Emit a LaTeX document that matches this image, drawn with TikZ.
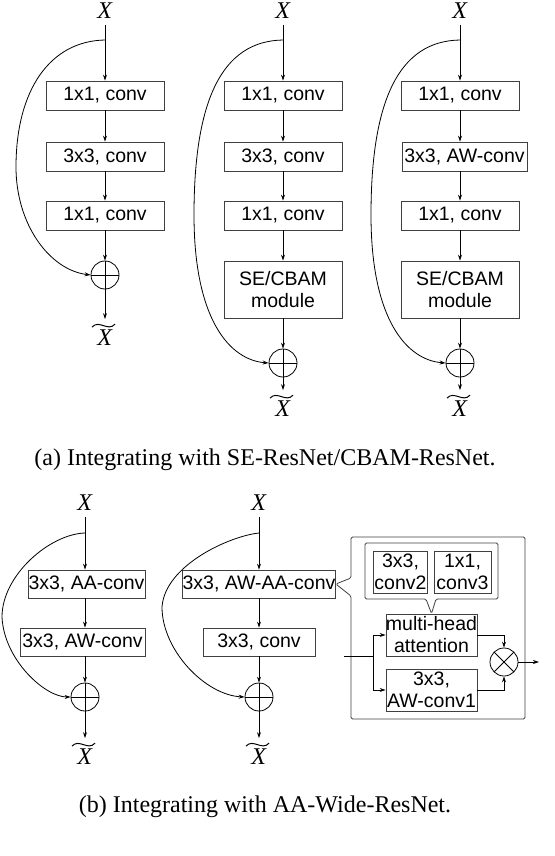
\documentclass[tikz,border=0pt]{standalone}
\usepackage{fontspec}
\setmainfont{Liberation Serif}
\setsansfont{Liberation Sans}
\usetikzlibrary{arrows.meta}

\begin{document}
\begin{tikzpicture}[x=1pt,y=-1pt,line width=0.8pt,>={Stealth[length=6pt,width=4pt]},
    box/.style={draw=black!75,font=\sffamily\fontsize{19.5}{22}\selectfont,
      minimum width=118,minimum height=29,inner sep=0pt,align=center},
    sum/.style={circle,draw,minimum size=28,inner sep=0pt,
      path picture={\draw (path picture bounding box.north) -- (path picture bounding box.south)
        (path picture bounding box.west) -- (path picture bounding box.east);}},
    prod/.style={circle,draw,minimum size=28,inner sep=0pt,
      path picture={\draw (path picture bounding box.north west) -- (path picture bounding box.south east)
        (path picture bounding box.north east) -- (path picture bounding box.south west);}},
    lbl/.style={font=\fontsize{24}{28}\selectfont,inner sep=1pt,outer sep=5pt},
    outlbl/.style={lbl,outer sep=10pt},
    captext/.style={font=\fontsize{24}{28}\selectfont,anchor=base}]

  \useasboundingbox (0,0) rectangle (554,856);

  % (a) SE-ResNet / CBAM-ResNet blocks
  \node[lbl] (xa1) at (105,11) {\textit{X}};
  \node[lbl] (xa2) at (283,11) {\textit{X}};
  \node[lbl] (xa3) at (460,11) {\textit{X}};
  \coordinate (ka1) at (105,40);
  \coordinate (ka2) at (283,40);
  \coordinate (ka3) at (460,40);

  \begin{scope}[every node/.style=box]
    \node (a11) at (105,95.5)  {1x1, conv};
    \node (a12) at (105,156.5) {3x3, conv};
    \node (a13) at (105,215.5) {1x1, conv};
    \node (a21) at (283,95.5)  {1x1, conv};
    \node (a22) at (283,156.5) {3x3, conv};
    \node (a23) at (283,215.5) {1x1, conv};
    \node[minimum height=57] (a24) at (283,289.5) {SE/CBAM\\module};
    \node (a31) at (460,95.5)  {1x1, conv};
    \node[minimum width=125] (a32) at (464.5,156.5) {3x3, AW-conv};
    \node (a33) at (460,215.5) {1x1, conv};
    \node[minimum height=57] (a34) at (460,289.5) {SE/CBAM\\module};
  \end{scope}

  \node[sum] (a1s) at (105,275) {};
  \node[sum] (a2s) at (283,363) {};
  \node[sum] (a3s) at (460,363) {};
  \node[outlbl] (ya1) at (105,338) {\textit{X}};
  \node[outlbl] (ya2) at (283,409) {\textit{X}};
  \node[outlbl] (ya3) at (460,409) {\textit{X}};

  \begin{scope}[every edge/.style={draw,->}]
    \path (xa1) edge (a11);
    \path (a11) edge (a12);
    \path (a12) edge (a13);
    \path (a13) edge (a1s);
    \path (a1s) edge (ya1);
    \path (xa2) edge (a21);
    \path (a21) edge (a22);
    \path (a22) edge (a23);
    \path (a23) edge (a24);
    \path (a24) edge (a2s);
    \path (a2s) edge (ya2);
    \path (xa3) edge (a31);
    \path (a33) edge (a34);
    \path (a34) edge (a3s);
    \path (a3s) edge (ya3);
  \end{scope}
  \draw[->] (a31) -- (a31 |- a32.north);
  \draw[->] (a32.south -| a31) -- (a33);

  \draw[->] (ka1) .. controls (50,41) and (16,90) .. (16,167)
    .. controls (16,225) and (50,270) .. (a1s.west);
  \draw[->] (ka2) .. controls (222,41) and (194,100) .. (194,215)
    .. controls (194,320) and (230,360) .. (a2s.west);
  \draw[->] (ka3) .. controls (399,41) and (371,100) .. (371,215)
    .. controls (371,320) and (407,360) .. (a3s.west);

  \node[captext] (capa) at (265,465) {(a) Integrating with SE-ResNet/CBAM-ResNet.};

  % (b) AA-Wide-ResNet blocks
  \node[lbl] (xb1) at (85,503) {\textit{X}};
  \node[lbl] (xb2) at (259,503) {\textit{X}};
  \coordinate (kb1) at (85,533);
  \coordinate (kb2) at (259,533);

  \begin{scope}[every node/.style={box,minimum height=28}]
    \node[minimum width=117] (b11) at (86.5,584) {3x3, AA-conv};
    \node[minimum width=125] (b12) at (82.5,642) {3x3, AW-conv};
    \node[minimum width=152] (b21) at (259,584) {3x3, AW-AA-conv};
    \node[minimum width=112] (b22) at (259,642) {3x3, conv};
  \end{scope}

  \node[sum] (b1s) at (85,697) {};
  \node[sum] (b2s) at (259,697) {};
  \node[outlbl] (yb1) at (85,757) {\textit{X}};
  \node[outlbl] (yb2) at (259,757) {\textit{X}};

  \draw[->] (xb1) -- (xb1 |- b11.north);
  \draw[->] (b11.south -| xb1) -- (xb1 |- b12.north);
  \draw[->] (b12.south -| xb1) -- (b1s);
  \draw[->] (b1s) -- (yb1);
  \draw[->] (xb2) -- (b21);
  \draw[->] (b21) -- (b22);
  \draw[->] (b22) -- (b2s);
  \draw[->] (b2s) -- (yb2);

  \draw[->] (kb1) .. controls (50,534) and (2,575) .. (2,617)
    .. controls (4,660) and (45,697) .. (b1s.west);
  \draw[->] (kb2) .. controls (230,536) and (165,565) .. (162,607)
    .. controls (162,650) and (205,695) .. (b2s.west);

  % tilde over the output X
  \foreach \n in {ya1,ya2,ya3,yb1,yb2}
    \draw[line width=1pt] ([shift={(-13,8)}]\n.north)
      .. controls ([shift={(-6,0)}]\n.north) and ([shift={(3,13)}]\n.north)
      .. ([shift={(10,5)}]\n.north);

  % detail of the AW-AA-conv layer
  \begin{scope}[every node/.style={box,minimum height=42}]
    \node[minimum width=54] (cv2) at (400.5,572) {3x3,\\conv2};
    \node[minimum width=57] (cv3) at (462.5,572) {1x1,\\conv3};
    \node[minimum width=91] (mha) at (431.5,635) {multi-head\\attention};
    \node[minimum width=91] (awc) at (431.5,690) {3x3,\\AW-conv1};
  \end{scope}
  \node[prod] (mul) at (504,662) {};

  \draw[draw=black!75,rounded corners=1.5pt] (351,578) -- (351,537) -- (525,537) -- (525,719)
    -- (351,719) -- (351,596) -- (b21.east) -- cycle;
  \draw[draw=black!75,rounded corners=1.5pt] (365,543) -- (498,543) -- (498,599) -- (436,599)
    -- (mha.north) -- (426,599) -- (365,599) -- cycle;

  \coordinate (inb) at (344,656);
  \coordinate (jn) at (373,656);
  \coordinate (outb) at (539,662);
  \draw (inb) -- (jn);
  \draw[->] (jn) |- (mha.west);
  \draw[->] (jn) |- (awc.west);
  \draw[->] (mha.east) -| (mul.north);
  \draw[->] (awc.east) -| (mul.south);
  \draw[->] (mul) -- (outb);

  \node[captext] (capb) at (265,812) {(b) Integrating with AA-Wide-ResNet.};

\end{tikzpicture}
\end{document}
